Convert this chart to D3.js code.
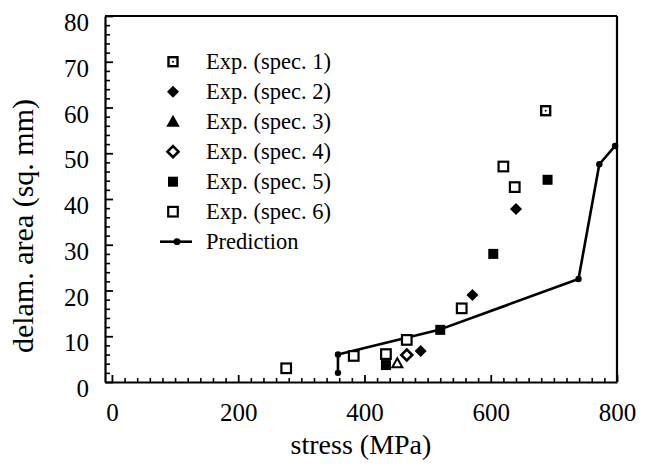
<!DOCTYPE html>
<html><head><meta charset="utf-8">
<script src="https://cdn.jsdelivr.net/npm/d3@7"></script>
<style>body{margin:0;background:#fff}svg{display:block}</style>
</head><body><div id="chart"></div>
<script>
const stressTicks = [0, 200, 400, 600, 800];
const areaTicks = [0, 10, 20, 30, 40, 50, 60, 70, 80];
const legendLabels = ["Exp. (spec. 1)", "Exp. (spec. 2)", "Exp. (spec. 3)", "Exp. (spec. 4)", "Exp. (spec. 5)", "Exp. (spec. 6)", "Prediction"];
const spec1 = [[687, 59.3]];
const spec2 = [[489, 6.8], [571, 19.0], [640, 37.8]];
const spec3 = [[452, 4.1]];
const spec4 = [[467, 5.9]];
const spec5 = [[434, 3.7], [520, 11.4], [604, 28.0], [690, 44.2]];
const spec6 = [[276, 3.0], [383, 5.7], [434, 6.1], [467, 9.2], [554, 16.1], [620, 47.1], [638, 42.6]];
const prediction = [[358, 2.0], [358, 6.0], [520, 11.5], [739, 22.5], [772, 47.6], [797, 51.6]];

const W = 645, H = 466;
const svg = d3.select("#chart").append("svg").attr("width", W).attr("height", H)
  .style("font-family", "'Liberation Serif', 'DejaVu Serif', serif");

const x = d3.scaleLinear().domain([-11, 800]).range([105, 617]);
const y = d3.scaleLinear().domain([0, 80]).range([382, 16]);

// minor ticks
const xMinor = d3.range(0, 801, 20).filter(v => v % 200 !== 0);
const yMinor = d3.range(0, 81, 2).filter(v => v % 10 !== 0);

svg.append("g").attr("transform", `translate(0,${y(0)})`)
  .call(d3.axisBottom(x).tickValues(xMinor).tickSize(-4).tickFormat(""))
  .call(g => g.select(".domain").remove())
  .selectAll("line").attr("stroke-width", 1.6);
svg.append("g").attr("transform", `translate(${x(-11)},0)`)
  .call(d3.axisLeft(y).tickValues(yMinor).tickSize(-5).tickFormat(""))
  .call(g => g.select(".domain").remove())
  .selectAll("line").attr("stroke-width", 1.6);

// major axes
const xAx = svg.append("g").attr("transform", `translate(0,${y(0)})`)
  .call(d3.axisBottom(x).tickValues(stressTicks).tickSize(-7).tickSizeOuter(0).tickPadding(21));
xAx.select(".domain").attr("stroke-width", 2.2);
xAx.selectAll("line").attr("stroke-width", 1.8);
xAx.selectAll("text").attr("font-size", 25).attr("font-family", "'Liberation Serif', serif").attr("fill", "#000");

const yAx = svg.append("g").attr("transform", `translate(${x(-11)},0)`)
  .call(d3.axisLeft(y).tickValues(areaTicks).tickSize(-8).tickSizeOuter(0).tickPadding(16));
yAx.select(".domain").attr("stroke-width", 2.2);
yAx.selectAll("line").attr("stroke-width", 1.8);
yAx.selectAll("text").attr("font-size", 25).attr("font-family", "'Liberation Serif', serif").attr("fill", "#000")
  .attr("dy", null).attr("dominant-baseline", "central").attr("y", 6);

// top and right frame
svg.append("line").attr("x1", x(-11)).attr("x2", x(800)).attr("y1", y(80)).attr("y2", y(80))
  .attr("stroke", "#000").attr("stroke-width", 2.2);
svg.append("line").attr("x1", x(800)).attr("x2", x(800)).attr("y1", y(80)).attr("y2", y(0))
  .attr("stroke", "#000").attr("stroke-width", 2.2);

// titles
svg.append("text").attr("x", 361).attr("y", 454).attr("text-anchor", "middle")
  .attr("font-size", 28).text("stress  (MPa)");
svg.append("text").attr("transform", "translate(33,226) rotate(-90)").attr("text-anchor", "middle")
  .attr("font-size", 30).text("delam.  area (sq. mm)");

// prediction line
const line = d3.line().x(d => x(d[0])).y(d => y(d[1]));
svg.append("path").datum(prediction).attr("d", line).attr("fill", "none")
  .attr("stroke", "#000").attr("stroke-width", 2.6).attr("stroke-linejoin", "round");
svg.selectAll(".pd").data(prediction).join("circle").attr("class", "pd")
  .attr("cx", d => x(d[0])).attr("cy", d => y(d[1])).attr("r", 3.2).attr("fill", "#000");

// marker drawing
function marker(g, type, cx, cy, legend) {
  const s = 9;
  if (type === "sqdot") {
    g.append("rect").attr("x", cx - s / 2).attr("y", cy - s / 2).attr("width", s).attr("height", s)
      .attr("fill", "#fff").attr("stroke", "#000").attr("stroke-width", 2.4);
    g.append("circle").attr("cx", cx).attr("cy", cy).attr("r", 1).attr("fill", "#000");
  } else if (type === "diamond") {
    g.append("path").attr("d", `M${cx},${cy - 6}L${cx + 6},${cy}L${cx},${cy + 6}L${cx - 6},${cy}Z`).attr("fill", "#000");
  } else if (type === "triangle") {
    g.append("path").attr("d", `M${cx},${cy - 5}L${cx + 5},${cy + 4}L${cx - 5},${cy + 4}Z`)
      .attr("fill", legend ? "#000" : "#fff").attr("stroke", "#000").attr("stroke-width", 2);
  } else if (type === "odiamond") {
    g.append("path").attr("d", `M${cx},${cy - 5.5}L${cx + 5.5},${cy}L${cx},${cy + 5.5}L${cx - 5.5},${cy}Z`)
      .attr("fill", "#fff").attr("stroke", "#000").attr("stroke-width", 2.6);
  } else if (type === "fsquare") {
    g.append("rect").attr("x", cx - 5).attr("y", cy - 5).attr("width", 10).attr("height", 10).attr("fill", "#000");
  } else if (type === "osquare") {
    g.append("rect").attr("x", cx - 4.8).attr("y", cy - 4.8).attr("width", 9.6).attr("height", 9.6)
      .attr("fill", "#fff").attr("stroke", "#000").attr("stroke-width", 2.2);
  }
}
const series = [[spec1, "sqdot"], [spec2, "diamond"], [spec3, "triangle"], [spec4, "odiamond"], [spec5, "fsquare"], [spec6, "osquare"]];
const pts = svg.append("g");
series.forEach(([data, type]) => data.forEach(d => marker(pts, type, x(d[0]), y(d[1]), false)));

// legend
const lg = svg.append("g");
legendLabels.forEach((lab, i) => {
  const ly = 61.7 + 30 * i;
  if (i < 6) marker(lg, series[i][1], 173, ly, true);
  else {
    lg.append("line").attr("x1", 160).attr("x2", 192).attr("y1", ly).attr("y2", ly)
      .attr("stroke", "#000").attr("stroke-width", 2.6);
    lg.append("circle").attr("cx", 177).attr("cy", ly).attr("r", 3.4).attr("fill", "#000");
  }
  lg.append("text").attr("x", 206).attr("y", ly).attr("dominant-baseline", "central")
    .attr("font-size", 22.5).text(lab);
});
</script></body></html>
